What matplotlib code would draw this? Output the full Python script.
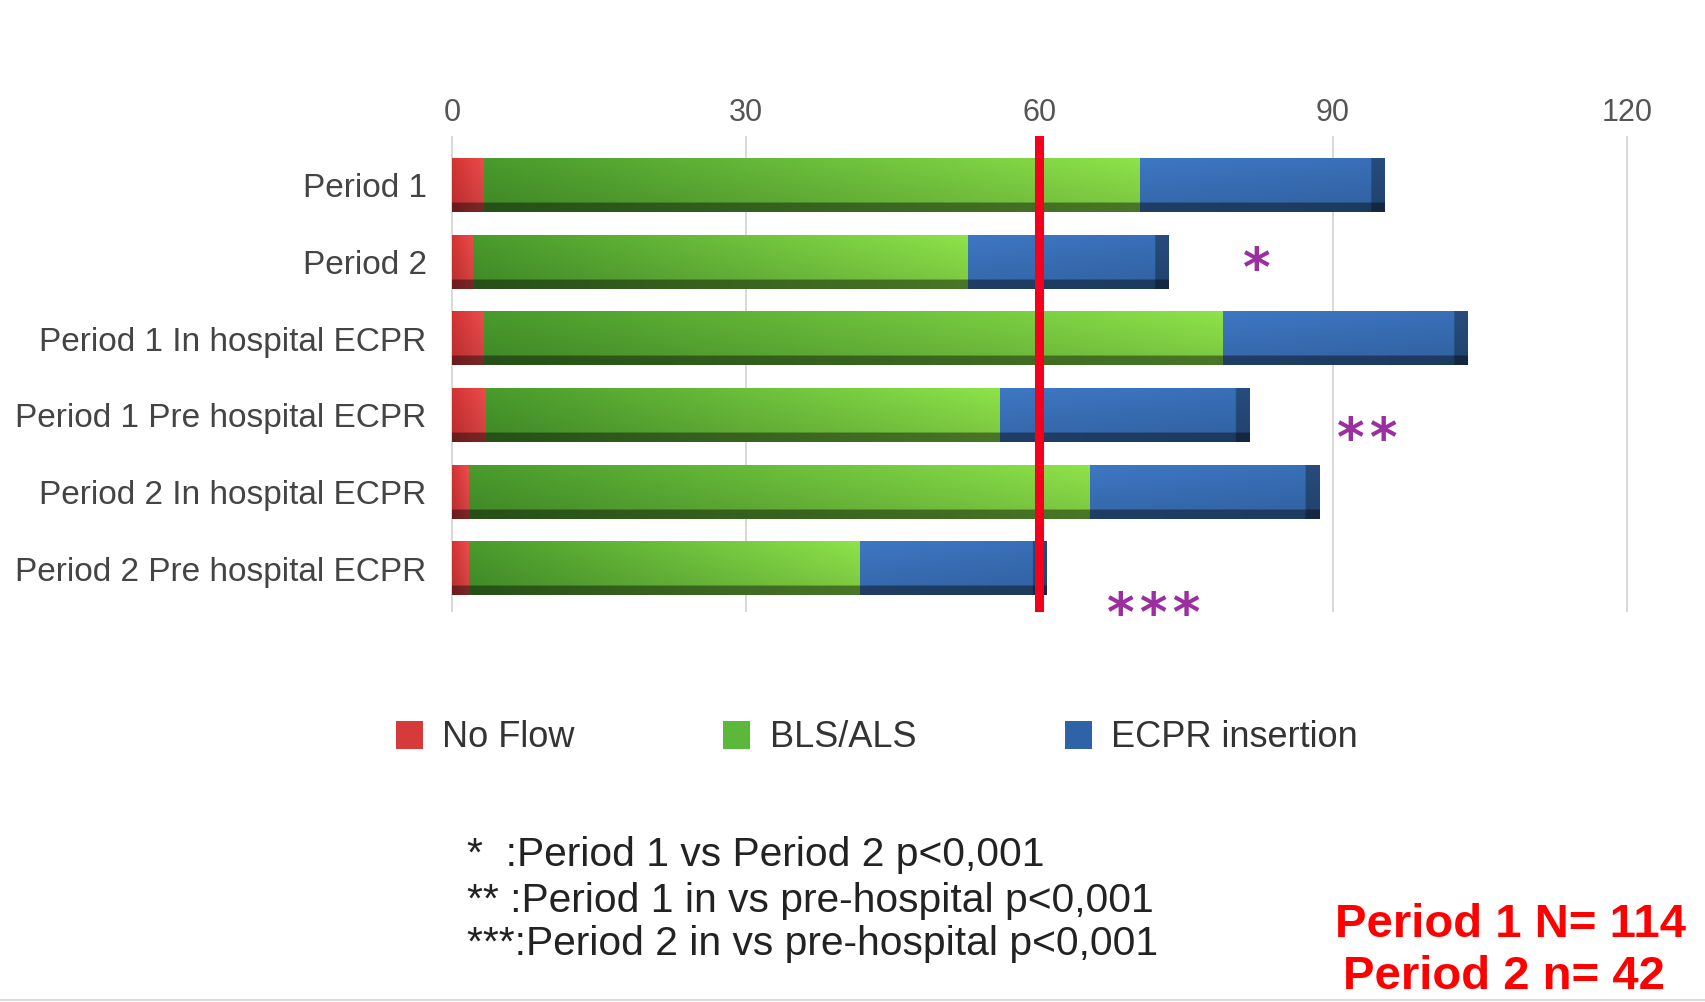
import numpy as np
import matplotlib
matplotlib.use('Agg')
import matplotlib.pyplot as plt
from matplotlib.patches import Patch
from matplotlib.colors import to_rgb

# ---------------- data ----------------
categories = ['Period 1', 'Period 2', 'Period 1 In hospital ECPR',
              'Period 1 Pre hospital ECPR', 'Period 2 In hospital ECPR',
              'Period 2 Pre hospital ECPR']
no_flow = [3.3, 2.2, 3.3, 3.5, 1.7, 1.7]
bls_als = [67.0, 50.5, 75.5, 52.5, 63.5, 40.0]
ecpr_ins = [25.0, 20.5, 25.0, 25.5, 23.4, 19.0]
series_names = ['No Flow', 'BLS/ALS', 'ECPR insertion']
x_ticks = [0, 30, 60, 90, 120]
threshold = 60
sig_marks = ['*', '**', '***']
sig_rows = [1, 3, 5]
footnotes = ['*  :Period 1 vs Period 2 p<0,001',
             '** :Period 1 in vs pre-hospital p<0,001',
             '***:Period 2 in vs pre-hospital p<0,001']
n_texts = ['Period 1 N= 114', 'Period 2 n= 42']

# ---------------- style ----------------
plt.rcParams['font.family'] = ['Liberation Sans', 'DejaVu Sans']
RED = '#d63a3a'
GREEN = '#5cb83a'
BLUE = '#2f63a8'
grad = {
    'red': (to_rgb('#c83030'), to_rgb('#e04848')),
    'green': (to_rgb('#45922a'), to_rgb('#86d646')),
    'blue': (to_rgb('#3a70b8'), to_rgb('#3569ad')),
}

fig = plt.figure(figsize=(17.06, 10.02), dpi=100)
ax = fig.add_axes([0.2534, 0.389, 0.7288, 0.475])

y = np.arange(len(categories))
h = 0.70
nf = np.array(no_flow)
bl = np.array(bls_als)
ec = np.array(ecpr_ins)

b1 = ax.barh(y, nf, height=h, color=RED, zorder=2)
b2 = ax.barh(y, bl, left=nf, height=h, color=GREEN, zorder=2)
b3 = ax.barh(y, ec, left=nf + bl, height=h, color=BLUE, zorder=2)


def shade_bar(left, width, yc, key, cap=0.0):
    c0, c1 = grad[key]
    nx, ny = 160, 40
    t = np.linspace(0, 1, nx)
    base = (1 - t)[:, None] * np.array(c0) + t[:, None] * np.array(c1)
    if cap > 0:
        xs = left + t * width
        capmask = xs > (left + width - cap)
        base[capmask] = base[capmask] * 0.68
    v = np.linspace(0, 1, ny)
    shade = np.where(v < 0.84, 1.06 - 0.14 * v, 0.55)
    img = np.clip(shade[:, None, None] * base[None, :, :], 0, 1)
    ax.imshow(img, extent=(left, left + width, yc + h / 2, yc - h / 2),
              aspect='auto', interpolation='bilinear', zorder=3)


for i in range(len(categories)):
    shade_bar(0, nf[i], y[i], 'red')
    shade_bar(nf[i], bl[i], y[i], 'green')
    shade_bar(nf[i] + bl[i], ec[i], y[i], 'blue', cap=1.4)

ax.set_xlim(-2, 125)
ax.set_ylim(5.57, -0.64)

ax.axvline(threshold, color='#f2001c', lw=6.5, zorder=5)

# significance marks
sig_dx = [9.0, 12.0, 11.0]
sig_dy = [0.12, 0.34, 0.62]
for m, r, dx, dy in zip(sig_marks, sig_rows, sig_dx, sig_dy):
    tot = nf[r] + bl[r] + ec[r]
    ax.text(tot + dx, y[r] + dy, '\u200a'.join(m), color='#9b2fa0', fontsize=38,
            family='DejaVu Sans', fontweight='bold', ha='center', va='center',
            zorder=6)

ax.xaxis.tick_top()
ax.set_xticks(x_ticks)
ax.set_xticklabels([str(t) for t in x_ticks])
ax.set_yticks(y)
ax.set_yticklabels(categories)
ax.tick_params(axis='x', length=0, labelsize=22, colors='#555555', pad=6)
ax.tick_params(axis='y', length=0, labelsize=24, colors='#444444', pad=4)
ax.grid(axis='x', color='#d6d6d6', lw=1.3)
ax.set_axisbelow(True)
for s in ax.spines.values():
    s.set_visible(False)

handles = [Patch(facecolor=c) for c in (RED, GREEN, BLUE)]
fig.legend(handles, series_names, loc='center', bbox_to_anchor=(0.514, 0.2635),
           ncol=3, frameon=False, fontsize=26, handlelength=0.75,
           handleheight=0.8, handletextpad=0.55, columnspacing=4.1,
           labelcolor='#333333')

for i, (txt, yy) in enumerate(zip(footnotes, [0.147, 0.101, 0.058])):
    fig.text(0.274, yy, txt, fontsize=29.3, color='#222222', va='center', ha='left')

fig.text(0.7825, 0.077, n_texts[0], fontsize=34, fontweight='bold', color='#ff0000',
         va='center', ha='left')
fig.text(0.787, 0.025, n_texts[1], fontsize=34, fontweight='bold', color='#ff0000',
         va='center', ha='left')

fig.add_artist(plt.Line2D([0, 1], [0.002, 0.002], color='#dddddd', lw=1.5))

fig.savefig('out.png', dpi=100)
